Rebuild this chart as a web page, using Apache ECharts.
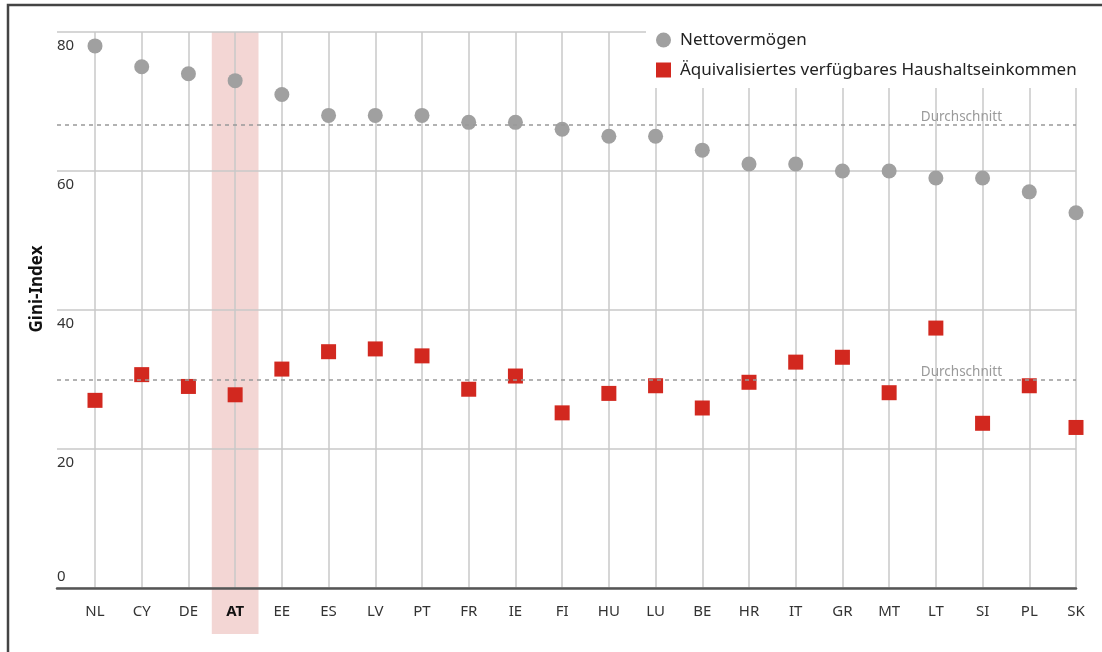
<!DOCTYPE html>
<html>
<head>
<meta charset="utf-8">
<script src="https://cdn.jsdelivr.net/npm/echarts@6/dist/echarts.min.js"></script>
<style>
html,body{margin:0;padding:0;background:#fff;}
#chart{width:1102px;height:652px;}
</style>
</head>
<body>
<div id="chart"></div>
<script>
const categories = ['NL','CY','DE','AT','EE','ES','LV','PT','FR','IE','FI','HU','LU','BE','HR','IT','GR','MT','LT','SI','PL','SK'];
const nettovermoegen = [78,75,74,73,71,68,68,68,67,67,66,65,65,63,61,61,60,60,59,59,57,54];
const einkommen = [27.0,30.7,29.0,27.8,31.5,34.0,34.4,33.4,28.6,30.5,25.2,28.0,29.1,25.9,29.6,32.5,33.2,28.1,37.4,23.7,29.1,23.1];
const averages = [66.6, 29.9];
const yTicks = [0,20,40,60,80];
const highlighted = 'AT';
const seriesNames = ['Nettovermögen','Äquivalisiertes verfügbares Haushaltseinkommen'];

const FONT = '"Noto Sans", "Open Sans", sans-serif';
const chart = echarts.init(document.getElementById('chart'), null, {renderer:'canvas'});

const option = {
  animation: false,
  backgroundColor: '#fff',
  textStyle: {fontFamily: FONT},
  grid: [
    {left: 57, right: 26, top: 32, bottom: 64},
    {left: 95, right: 26, top: 32, bottom: 64}
  ],
  legend: {
    data: [{name: seriesNames[0], icon: 'circle'}, {name: seriesNames[1], icon: 'rect'}],
    orient: 'vertical',
    left: 646, top: 22,
    padding: [8, 24, 8, 10],
    backgroundColor: '#fff',
    itemWidth: 15, itemHeight: 15, itemGap: 10,
    z: 10,
    textStyle: {fontFamily: FONT, fontSize: 17, color: '#222', lineHeight: 20, padding: [0,0,0,4]}
  },
  xAxis: [
    {type: 'value', gridIndex: 0, min: 0, max: 1,
     axisLine: {show: true, lineStyle: {color: '#555', width: 2.5}},
     axisTick: {show: false}, axisLabel: {show: false}, splitLine: {show: false}, z: 5},
    {type: 'category', gridIndex: 1, boundaryGap: false,
     data: categories.map(c => c === highlighted ? {value: c, textStyle: {fontWeight: 'bold', color: '#111'}} : c),
     axisLine: {show: false}, axisTick: {show: false},
     axisLabel: {fontFamily: FONT, fontSize: 15, color: '#333', margin: 16},
     splitLine: {show: true, lineStyle: {color: '#c8c8c8', width: 1.5}}}
  ],
  yAxis: [
    {type: 'value', gridIndex: 0, min: yTicks[0], max: yTicks[yTicks.length-1], interval: 20,
     axisLine: {show: false}, axisTick: {show: false},
     splitLine: {show: true, lineStyle: {color: '#c8c8c8', width: 1.5}},
     name: 'Gini-Index', nameLocation: 'middle', nameGap: 2, nameRotate: 90,
     nameTextStyle: {fontFamily: FONT, fontSize: 17, fontWeight: 'bold', color: '#111', padding: [12,0,0,42]},
     axisLabel: {inside: true, margin: 0,
       formatter: v => v === 0 ? '{z|0}' : '{n|' + v + '}',
       rich: {
         n: {fontFamily: FONT, fontSize: 15, color: '#333', padding: [28,0,0,0]},
         z: {fontFamily: FONT, fontSize: 15, color: '#333', padding: [0,0,22,0]}
       }}},
    {type: 'value', gridIndex: 1, min: yTicks[0], max: yTicks[yTicks.length-1], show: false, splitLine: {show: false}}
  ],
  series: [
    {type: 'line', xAxisIndex: 0, yAxisIndex: 0, data: [], silent: true,
     markLine: {silent: true, symbol: 'none',
       lineStyle: {color: '#999', type: [4, 4], width: 1.5},
       label: {show: true, position: 'insideEndTop', formatter: 'Durchschnitt', color: '#9a9a9a', fontSize: 13.5, fontFamily: FONT, distance: [74, 1]},
       data: averages.map(a => ({yAxis: a}))}},
    {name: seriesNames[0], type: 'scatter', xAxisIndex: 1, yAxisIndex: 1,
     symbol: 'circle', symbolSize: 15, itemStyle: {color: '#a0a0a0', opacity: 1},
     data: nettovermoegen, z: 3},
    {name: seriesNames[1], type: 'scatter', xAxisIndex: 1, yAxisIndex: 1,
     symbol: 'rect', symbolSize: 15, itemStyle: {color: '#d2281f', opacity: 1},
     data: einkommen, z: 3}
  ]
};
chart.setOption(option);

// highlight band for AT, derived from the category axis scale
const idx = categories.indexOf(highlighted);
const p0 = chart.convertToPixel({xAxisIndex: 1, yAxisIndex: 1}, [idx, yTicks[yTicks.length-1]]);
const p1 = chart.convertToPixel({xAxisIndex: 1, yAxisIndex: 1}, [idx + 1, yTicks[0]]);
const bandW = p1[0] - p0[0];
chart.setOption({
  graphic: [
    {type: 'rect', z: -10, silent: true,
     shape: {x: p0[0] - bandW / 2, y: p0[1], width: bandW, height: (p1[1] - p0[1]) + 46},
     style: {fill: '#f3d6d4'}},
    {type: 'rect', z: 100, silent: true,
     shape: {x: 8, y: 5, width: 1130, height: 700},
     style: {fill: 'none', stroke: '#444', lineWidth: 2.5}}
  ]
});
</script>
</body>
</html>
